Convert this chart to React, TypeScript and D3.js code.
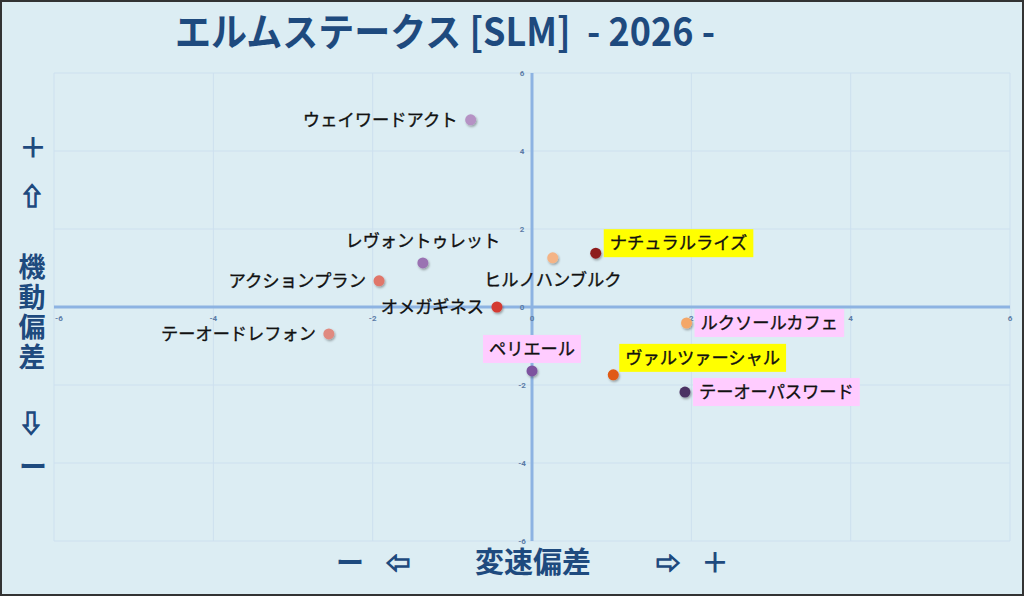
import * as React from 'react';
import * as d3 from 'd3';

// horses, x = 変速偏差, y = 機動偏差
const names = [
  'ウェイワードアクト',
  'レヴォントゥレット',
  'アクションプラン',
  'オメガギネス',
  'ヒルノハンブルク',
  'ナチュラルライズ',
  'テーオードレフォン',
  'ルクソールカフェ',
  'ペリエール',
  'ヴァルツァーシャル',
  'テーオーパスワード',
];
const xValues = [-0.77, -1.37, -1.92, -0.44, 0.26, 0.8, -2.55, 1.94, 0.0, 1.02, 1.92];
const yValues = [4.8, 1.13, 0.67, 0.0, 1.26, 1.38, -0.69, -0.41, -1.64, -1.74, -2.18];
const dotColors = [
  '#b592c4', '#9a72b2', '#e0766a', '#d43a32', '#f4b486', '#8e1c1e',
  '#e08a80', '#f4a768', '#7d529f', '#e05a12', '#4b3263',
];
// label highlight: '' none, 'y' yellow, 'p' pink
const highlight = ['', '', '', '', '', 'y', '', 'p', 'p', 'y', 'p'];
const ticks = [-6, -4, -2, 0, 2, 4, 6];

const title = 'エルムステークス [SLM]  - 2026 -';

const W = 1024;
const H = 596;
const navy = '#1e4a7e';

const labelSide: Record<string, string> = {
  'ウェイワードアクト': 'left',
  'レヴォントゥレット': 'top',
  'アクションプラン': 'left',
  'オメガギネス': 'left',
  'ヒルノハンブルク': 'bottom',
  'ナチュラルライズ': 'right-up',
  'テーオードレフォン': 'left',
  'ルクソールカフェ': 'right',
  'ペリエール': 'top',
  'ヴァルツァーシャル': 'top-right',
  'テーオーパスワード': 'right',
};

const x = d3.scaleLinear().domain([-6, 6]).range([54, 1010]);
const y = d3.scaleLinear().domain([-6, 6]).range([541, 73]);

const jpFont = '"Noto Sans CJK JP", "Noto Sans", sans-serif';

const App: React.FC = () => {
  const labelW = (s: string) => s.length * 17.2;

  return (
    <div style={{ position: 'absolute', left: 0, top: 0 }}>
      <svg width={W} height={H} style={{ display: 'block' }}>
        <defs>
          <filter id="shadow" x="-50%" y="-50%" width="200%" height="200%">
            <feDropShadow dx="1" dy="1.5" stdDeviation="1.2" floodColor="#000" floodOpacity="0.35" />
          </filter>
        </defs>
        <rect x={1} y={1} width={W - 2} height={H - 2} fill="#dcedf3" stroke="#333" strokeWidth={2} />

        {/* Grid */}
        {ticks.map((t) => (
          <g key={'g' + t}>
            <line x1={x(t)} x2={x(t)} y1={y(6)} y2={y(-6)} stroke="#cde0ef" strokeWidth={1} />
            <line x1={x(-6)} x2={x(6)} y1={y(t)} y2={y(t)} stroke="#cde0ef" strokeWidth={1} />
          </g>
        ))}

        {/* Axes */}
        <line x1={x(-6)} x2={x(6)} y1={y(0)} y2={y(0)} stroke="#8db3e2" strokeWidth={3} />
        <line x1={x(0)} x2={x(0)} y1={y(6)} y2={y(-6)} stroke="#8db3e2" strokeWidth={3} />

        {/* Tick labels */}
        {ticks.map((t) => (
          <text
            key={'tx' + t}
            x={x(t) + (t === -6 ? 1 : 0)}
            y={y(0) + 14}
            fontSize={8}
            fontWeight="bold"
            fill="#5b7ba6"
            textAnchor={t === -6 ? 'start' : 'middle'}
            fontFamily="Roboto, sans-serif"
          >
            {t}
          </text>
        ))}
        {ticks.map((t) => (
          <text
            key={'ty' + t}
            x={x(0) - 10}
            y={y(t) + 3}
            fontSize={8}
            fontWeight="bold"
            fill="#5b7ba6"
            textAnchor="middle"
            fontFamily="Roboto, sans-serif"
          >
            {t}
          </text>
        ))}

        {/* Points */}
        {names.map((n, i) => (
          <circle
            key={'c' + n}
            cx={x(xValues[i])}
            cy={y(yValues[i])}
            r={5.5}
            fill={dotColors[i]}
            filter="url(#shadow)"
          />
        ))}

        {/* Labels */}
        {names.map((n, i) => {
          const px = x(xValues[i]);
          const py = y(yValues[i]);
          const w = labelW(n);
          const side = labelSide[n];
          let cx = px;
          let cy = py;
          if (side === 'left') cx = px - 13 - w / 2;
          else if (side === 'right') cx = px + 14 + w / 2;
          else if (side === 'top') cy = py - 22;
          else if (side === 'bottom') cy = py + 22;
          else if (side === 'right-up') {
            cx = px + 14 + w / 2;
            cy = py - 10;
          } else if (side === 'top-right') {
            cx = px + 12 + w / 2;
            cy = py - 17;
          }
          const bg = highlight[i] === 'y' ? '#ffff00' : highlight[i] === 'p' ? '#ffccff' : null;
          return (
            <g key={'l' + n}>
              {bg && <rect x={cx - w / 2 - 6} y={cy - 14} width={w + 12} height={28} fill={bg} />}
              <text
                x={cx}
                y={cy}
                dy="0.36em"
                textAnchor="middle"
                fontSize={17.5}
                fill="#111"
                stroke="#111"
                strokeWidth={0.35}
                fontFamily={jpFont}
                textLength={w}
                lengthAdjust="spacingAndGlyphs"
              >
                {n}
              </text>
            </g>
          );
        })}

        {/* Title */}
        <text
          x={175}
          y={46}
          fontSize={39}
          fontWeight="bold"
          fill={navy}
          fontFamily={jpFont}
          textLength={540}
          lengthAdjust="spacingAndGlyphs"
          style={{ whiteSpace: 'pre' }}
        >
          {title}
        </text>

        {/* Y side label */}
        <g fill={navy} fontFamily={jpFont} fontWeight="bold" textAnchor="middle">
          <text x={33} y={148} dy="0.36em" fontSize={28}>＋</text>
          <text x={32} y={196} dy="0.36em" fontSize={24} stroke={navy} strokeWidth={1.3}>⇧</text>
          {'機動偏差'.split('').map((c, i) => (
            <text key={c} x={32} y={267 + i * 30} dy="0.36em" fontSize={27}>
              {c}
            </text>
          ))}
          <text x={31} y={423} dy="0.36em" fontSize={24} stroke={navy} strokeWidth={1.3}>⇩</text>
          <text x={33} y={467} dy="0.36em" fontSize={28}>ー</text>
        </g>

        {/* X side label */}
        <g fill={navy} fontFamily={jpFont} fontWeight="bold" textAnchor="middle">
          <text x={350} y={563} dy="0.36em" fontSize={28}>ー</text>
          <text x={398} y={563} dy="0.36em" fontSize={24} stroke={navy} strokeWidth={1.3}>⇦</text>
          <text x={533} y={563} dy="0.36em" fontSize={29}>変速偏差</text>
          <text x={668} y={563} dy="0.36em" fontSize={24} stroke={navy} strokeWidth={1.3}>⇨</text>
          <text x={715} y={563} dy="0.36em" fontSize={28}>＋</text>
        </g>
      </svg>
    </div>
  );
};

export default App;
